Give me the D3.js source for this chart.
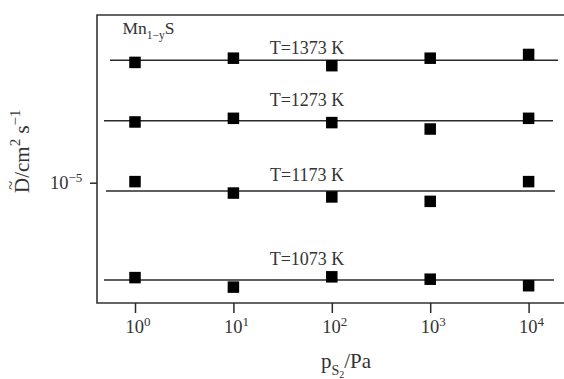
<!DOCTYPE html>
<html><head><meta charset="utf-8">
<script src="https://cdn.jsdelivr.net/npm/d3@7"></script>
<style>
body{margin:0;background:#fff}
text{font-family:"Liberation Serif","Times New Roman",serif;fill:#333}
</style>
</head><body><svg id="c" width="564" height="379"></svg>
<script>
// ---- data ----
const pressures = [1, 10, 100, 1000, 10000];
const seriesLabels = ["T=1373 K", "T=1273 K", "T=1173 K", "T=1073 K"];
const d1373 = [3.03e-5, 3.15e-5, 2.94e-5, 3.15e-5, 3.26e-5];
const d1273 = [1.75e-5, 1.81e-5, 1.74e-5, 1.64e-5, 1.81e-5];
const d1173 = [1.01e-5, 9.09e-6, 8.77e-6, 8.42e-6, 1.01e-5];
const d1073 = [4.17e-6, 3.82e-6, 4.20e-6, 4.11e-6, 3.87e-6];
const fitValues = [3.09e-5, 1.77e-5, 9.26e-6, 4.08e-6];
const fitStart = [0.557, 0.484, 0.507, 0.484];
const fitEnd = [19900, 17700, 18500, 18100];
const xTickValues = [1, 10, 100, 1000, 10000];
const xTickExponents = ["0", "1", "2", "3", "4"];
const yTickValues = [1e-5];
const yTickExponents = ["\u22125"];

// ---- layout ----
const svg = d3.select("#c");
const L = 97, T = 15, B = 303, R = 572;
const x = d3.scaleLog().domain([0.411, 27600]).range([L, R]);
const y = d3.scaleLog().domain([3.30e-6, 4.69e-5]).range([B, T]);
const ink = "#2a2a2a";

const series = [d1373, d1273, d1173, d1073];
const labelOffsets = [6.5, 15, 10.5, 14.5];

// frame
svg.append("path")
  .attr("d", `M${R},${T}H${L}V${B}H${R}`)
  .attr("fill", "none").attr("stroke", "#333").attr("stroke-width", 1.6);

// x axis
const gx = svg.append("g").attr("transform", `translate(0,${B})`)
  .call(d3.axisBottom(x).tickValues(xTickValues).tickSize(10).tickPadding(8).tickFormat(() => ""));
gx.select(".domain").remove();
gx.selectAll(".tick line").attr("stroke", ink).attr("stroke-width", 1.5);
gx.selectAll(".tick text").each(function(d, i) {
  const t = d3.select(this).attr("text-anchor", "start").attr("x", -10).attr("dy", 0).attr("y", 30)
    .style("font-size", "18.5px").attr("fill", "#333");
  t.append("tspan").text("10");
  t.append("tspan").attr("dy", -7).style("font-size", "13px").text(xTickExponents[i]);
});

// y axis
const gy = svg.append("g").attr("transform", `translate(${L},0)`)
  .call(d3.axisLeft(y).tickValues(yTickValues).tickSize(7).tickPadding(6).tickFormat(() => ""));
gy.select(".domain").remove();
gy.selectAll(".tick line").attr("stroke", ink).attr("stroke-width", 1.5);
gy.selectAll(".tick text").each(function(d, i) {
  const t = d3.select(this).attr("text-anchor", "start").attr("x", -47).attr("dy", 0).attr("y", 5.5)
    .style("font-size", "18.5px").attr("fill", "#333");
  t.append("tspan").text("10");
  t.append("tspan").attr("dy", -7).style("font-size", "13px").text(yTickExponents[i]);
});

// fit lines
series.forEach((s, i) => {
  svg.append("line")
    .attr("x1", x(fitStart[i])).attr("x2", x(fitEnd[i]))
    .attr("y1", y(fitValues[i])).attr("y2", y(fitValues[i]))
    .attr("stroke", ink).attr("stroke-width", 1.4);
  svg.append("text")
    .attr("x", x(56)).attr("y", y(fitValues[i]) - labelOffsets[i])
    .attr("text-anchor", "middle").style("font-size", "18px")
    .text(seriesLabels[i]);
});

// points
const sz = 11.5;
series.forEach(s => {
  svg.append("g").selectAll("rect").data(s).join("rect")
    .attr("x", (d, j) => x(pressures[j]) - sz / 2)
    .attr("y", d => y(d) - sz / 2)
    .attr("width", sz).attr("height", sz)
    .attr("fill", "#000");
});

// Mn1-yS label
const mn = svg.append("text").attr("x", 122.5).attr("y", 34).style("font-size", "17.5px");
mn.append("tspan").text("Mn");
mn.append("tspan").attr("dy", 4.5).style("font-size", "11.5px").text("1\u2212y");
mn.append("tspan").attr("dy", -4.5).text("S");

// x label
const xl = svg.append("text").attr("x", 346).attr("y", 368).attr("text-anchor", "middle").style("font-size", "21px");
xl.append("tspan").text("p");
xl.append("tspan").attr("dy", 7).style("font-size", "14px").text("S");
xl.append("tspan").attr("dy", 3).style("font-size", "10px").text("2");
xl.append("tspan").attr("dy", -10).text("/Pa");

// y label
const yl = svg.append("g").attr("transform", "translate(29,193) rotate(-90)");
const ylt = yl.append("text").attr("x", 0).attr("y", 0).style("font-size", "21px");
ylt.append("tspan").text("D");
ylt.append("tspan").text("/cm");
ylt.append("tspan").attr("dy", -9).style("font-size", "15px").text("2");
ylt.append("tspan").attr("dy", 9).text(" s");
ylt.append("tspan").attr("dy", -9).style("font-size", "15px").text("\u22121");
yl.append("text").attr("x", 7.5).attr("y", -13.5).attr("text-anchor", "middle").style("font-size", "17px").text("~");
</script>
</body></html>
